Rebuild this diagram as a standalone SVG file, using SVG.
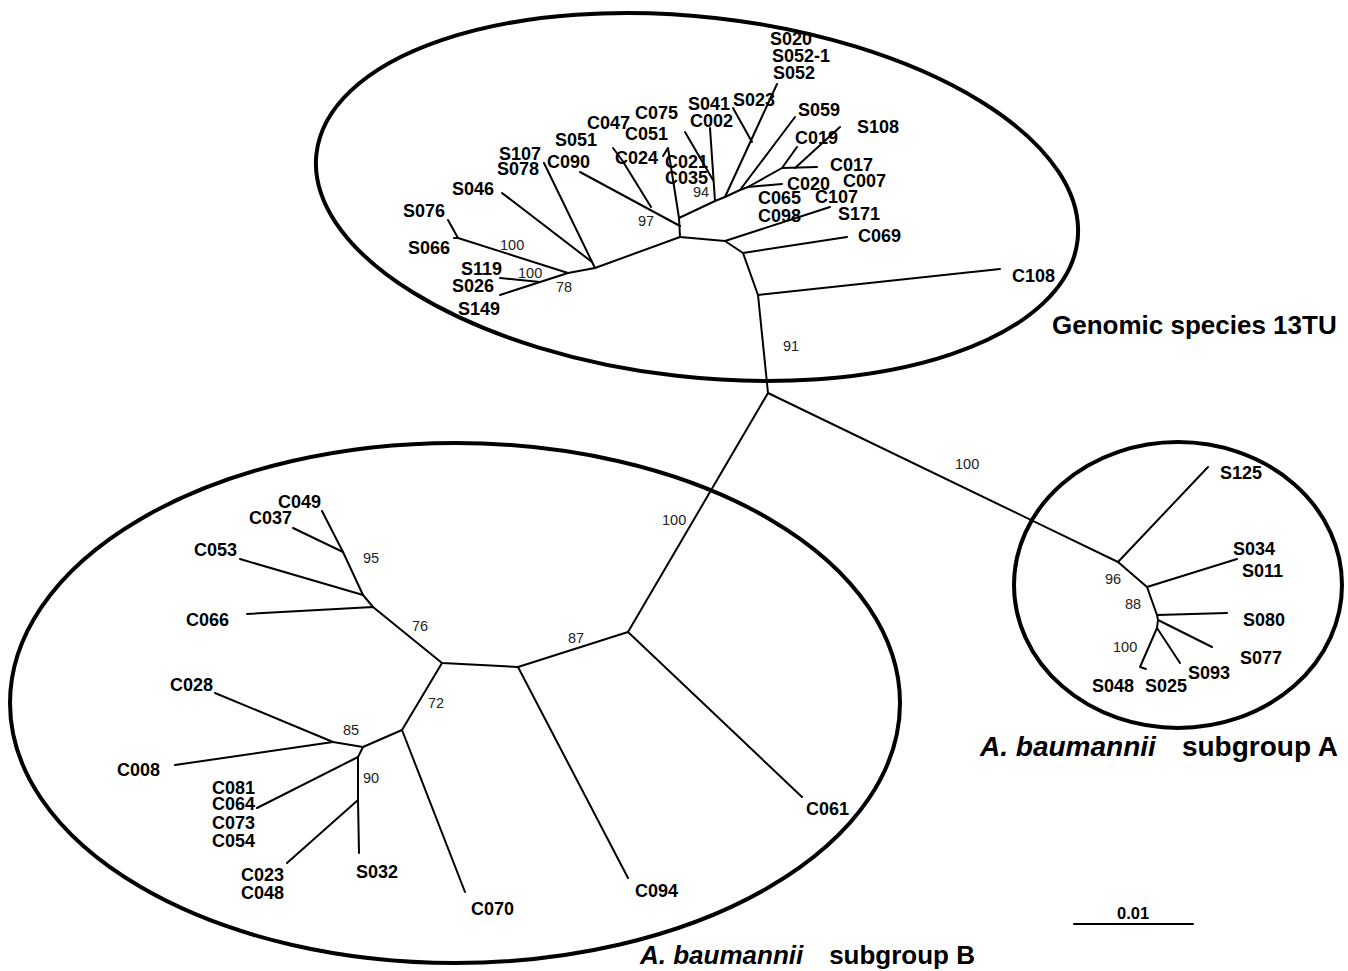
<svg xmlns="http://www.w3.org/2000/svg" width="1348" height="971" viewBox="0 0 1348 971">
<style>
.lbl{font-family:"Liberation Sans",Arial,sans-serif;font-weight:bold;font-size:18px;fill:#000}
.num{font-family:"Liberation Sans",Arial,sans-serif;font-size:14.5px;fill:#222}
.ttl{font-family:"Liberation Sans",Arial,sans-serif;font-weight:bold;font-size:26px;fill:#000}
.it{font-style:italic}
.ell{fill:none;stroke:#000;stroke-width:4}
.edges path{fill:none;stroke:#000;stroke-width:2;stroke-linecap:round;stroke-linejoin:round}
</style>
<rect width="1348" height="971" fill="#fff"/>
<g id="cluster-13TU">
<ellipse class="ell" cx="697" cy="197" rx="383" ry="180" transform="rotate(6.5 697 197)"/>
<text class="ttl" x="1052" y="334">Genomic species 13TU</text>
</g>
<g id="cluster-B">
<ellipse class="ell" cx="455" cy="703" rx="445" ry="260"/>
<text class="ttl" x="640" y="964"><tspan class="it">A. baumannii</tspan></text>
<text class="ttl" x="975" y="964" text-anchor="end">subgroup B</text>
</g>
<g id="cluster-A">
<ellipse class="ell" cx="1178" cy="585" rx="164" ry="143"/>
<text class="ttl" x="980" y="756" style="font-size:28px"><tspan class="it">A. baumannii</tspan></text>
<text class="ttl" x="1338" y="756" text-anchor="end" style="font-size:28px">subgroup A</text>
</g>
<g id="connectors" class="edges">
<path d="M768,393 L758,295 L743,253 L725,241 L680,237 L679,218 L715,201 L725,197 L740,190 L748,187"/>
<path d="M758,295 L1000,269"/>
<path d="M743,253 L847,237"/>
<path d="M725,241 L830,207"/>
<path d="M715,201 L710,128"/>
<path d="M685,132 L713,180"/>
<path d="M725,197 L777,84"/>
<path d="M752,142 L733,108"/>
<path d="M740,190 L795,117"/>
<path d="M748,187 L782,168 L797,147"/>
<path d="M782,168 L817,167"/>
<path d="M795,168 L840,127"/>
<path d="M748,187 L782,184"/>
<path d="M679,218 L668,148 L663,156"/>
<path d="M680,226 L580,172"/>
<path d="M651,207 L622,160 L613,148"/>
<path d="M680,237 L595,268 L568,273"/>
<path d="M595,268 L544,163"/>
<path d="M592,262 L502,193"/>
<path d="M568,273 L458,238 L448,220"/>
<path d="M458,238 L454,238"/>
<path d="M568,273 L500,295"/>
<path d="M540,282 L500,278"/>
<path d="M768,393 L628,632 L802,797"/>
<path d="M628,632 L518,667 L628,878"/>
<path d="M518,667 L442,663 L373,607 L247,614"/>
<path d="M373,607 L363,595 L240,559"/>
<path d="M363,595 L343,552 L293,528"/>
<path d="M343,552 L322,511"/>
<path d="M442,663 L402,730 L465,892"/>
<path d="M402,730 L363,747 L333,742 L215,693"/>
<path d="M333,742 L175,765"/>
<path d="M363,747 L358,757 L257,808"/>
<path d="M358,757 L358,800 L287,863"/>
<path d="M358,800 L359,853"/>
<path d="M768,393 L1118,562 L1208,467"/>
<path d="M1118,562 L1147,587 L1237,559"/>
<path d="M1147,587 L1157,615 L1227,613"/>
<path d="M1157,615 L1158,620 L1212,647"/>
<path d="M1158,620 L1157,628 L1180,663"/>
<path d="M1157,628 L1140,667 L1146,669"/>
<path d="M1074,924 L1193,924"/>
</g>
<g id="support-values">
<text class="num" x="500" y="250">100</text>
<text class="num" x="518" y="278">100</text>
<text class="num" x="556" y="292">78</text>
<text class="num" x="638" y="226">97</text>
<text class="num" x="693" y="197">94</text>
<text class="num" x="783" y="351">91</text>
<text class="num" x="955" y="469">100</text>
<text class="num" x="1105" y="584">96</text>
<text class="num" x="1125" y="609">88</text>
<text class="num" x="1113" y="652">100</text>
<text class="num" x="662" y="525">100</text>
<text class="num" x="568" y="643">87</text>
<text class="num" x="412" y="631">76</text>
<text class="num" x="363" y="563">95</text>
<text class="num" x="428" y="708">72</text>
<text class="num" x="343" y="735">85</text>
<text class="num" x="363" y="783">90</text>
</g>
<g id="leaf-S020"><text class="lbl" x="770" y="45">S020</text></g>
<g id="leaf-S052-1"><text class="lbl" x="772" y="62">S052-1</text></g>
<g id="leaf-S052"><text class="lbl" x="773" y="79">S052</text></g>
<g id="leaf-S041"><text class="lbl" x="688" y="110">S041</text></g>
<g id="leaf-C002"><text class="lbl" x="690" y="127">C002</text></g>
<g id="leaf-S023"><text class="lbl" x="733" y="106">S023</text></g>
<g id="leaf-C075"><text class="lbl" x="635" y="119">C075</text></g>
<g id="leaf-C047"><text class="lbl" x="587" y="129">C047</text></g>
<g id="leaf-C051"><text class="lbl" x="625" y="140">C051</text></g>
<g id="leaf-S051"><text class="lbl" x="555" y="146">S051</text></g>
<g id="leaf-C024"><text class="lbl" x="615" y="164">C024</text></g>
<g id="leaf-C021"><text class="lbl" x="665" y="168">C021</text></g>
<g id="leaf-C035"><text class="lbl" x="665" y="184">C035</text></g>
<g id="leaf-S107"><text class="lbl" x="499" y="160">S107</text></g>
<g id="leaf-S078"><text class="lbl" x="497" y="175">S078</text></g>
<g id="leaf-C090"><text class="lbl" x="547" y="168">C090</text></g>
<g id="leaf-S046"><text class="lbl" x="452" y="195">S046</text></g>
<g id="leaf-S076"><text class="lbl" x="403" y="217">S076</text></g>
<g id="leaf-S066"><text class="lbl" x="408" y="254">S066</text></g>
<g id="leaf-S119"><text class="lbl" x="461" y="275">S119</text></g>
<g id="leaf-S026"><text class="lbl" x="452" y="292">S026</text></g>
<g id="leaf-S149"><text class="lbl" x="458" y="315">S149</text></g>
<g id="leaf-S059"><text class="lbl" x="798" y="116">S059</text></g>
<g id="leaf-C019"><text class="lbl" x="795" y="144">C019</text></g>
<g id="leaf-S108"><text class="lbl" x="857" y="133">S108</text></g>
<g id="leaf-C017"><text class="lbl" x="830" y="171">C017</text></g>
<g id="leaf-C007"><text class="lbl" x="843" y="187">C007</text></g>
<g id="leaf-C020"><text class="lbl" x="787" y="190">C020</text></g>
<g id="leaf-C107"><text class="lbl" x="815" y="203">C107</text></g>
<g id="leaf-C065"><text class="lbl" x="758" y="204">C065</text></g>
<g id="leaf-C098"><text class="lbl" x="758" y="222">C098</text></g>
<g id="leaf-S171"><text class="lbl" x="838" y="220">S171</text></g>
<g id="leaf-C069"><text class="lbl" x="858" y="242">C069</text></g>
<g id="leaf-C108"><text class="lbl" x="1012" y="282">C108</text></g>
<g id="leaf-S125"><text class="lbl" x="1220" y="479">S125</text></g>
<g id="leaf-S034"><text class="lbl" x="1233" y="555">S034</text></g>
<g id="leaf-S011"><text class="lbl" x="1242" y="577">S011</text></g>
<g id="leaf-S080"><text class="lbl" x="1243" y="626">S080</text></g>
<g id="leaf-S077"><text class="lbl" x="1240" y="664">S077</text></g>
<g id="leaf-S093"><text class="lbl" x="1188" y="679">S093</text></g>
<g id="leaf-S025"><text class="lbl" x="1145" y="692">S025</text></g>
<g id="leaf-S048"><text class="lbl" x="1092" y="692">S048</text></g>
<g id="leaf-C049"><text class="lbl" x="278" y="508">C049</text></g>
<g id="leaf-C037"><text class="lbl" x="249" y="524">C037</text></g>
<g id="leaf-C053"><text class="lbl" x="194" y="556">C053</text></g>
<g id="leaf-C066"><text class="lbl" x="186" y="626">C066</text></g>
<g id="leaf-C028"><text class="lbl" x="170" y="691">C028</text></g>
<g id="leaf-C008"><text class="lbl" x="117" y="776">C008</text></g>
<g id="leaf-C081"><text class="lbl" x="212" y="794">C081</text></g>
<g id="leaf-C064"><text class="lbl" x="212" y="810">C064</text></g>
<g id="leaf-C073"><text class="lbl" x="212" y="829">C073</text></g>
<g id="leaf-C054"><text class="lbl" x="212" y="847">C054</text></g>
<g id="leaf-C023"><text class="lbl" x="241" y="881">C023</text></g>
<g id="leaf-C048"><text class="lbl" x="241" y="899">C048</text></g>
<g id="leaf-S032"><text class="lbl" x="356" y="878">S032</text></g>
<g id="leaf-C070"><text class="lbl" x="471" y="915">C070</text></g>
<g id="leaf-C094"><text class="lbl" x="635" y="897">C094</text></g>
<g id="leaf-C061"><text class="lbl" x="806" y="815">C061</text></g>
<g id="scale-bar"><text class="lbl" x="1117" y="919" style="font-size:16.5px">0.01</text></g>
</svg>
